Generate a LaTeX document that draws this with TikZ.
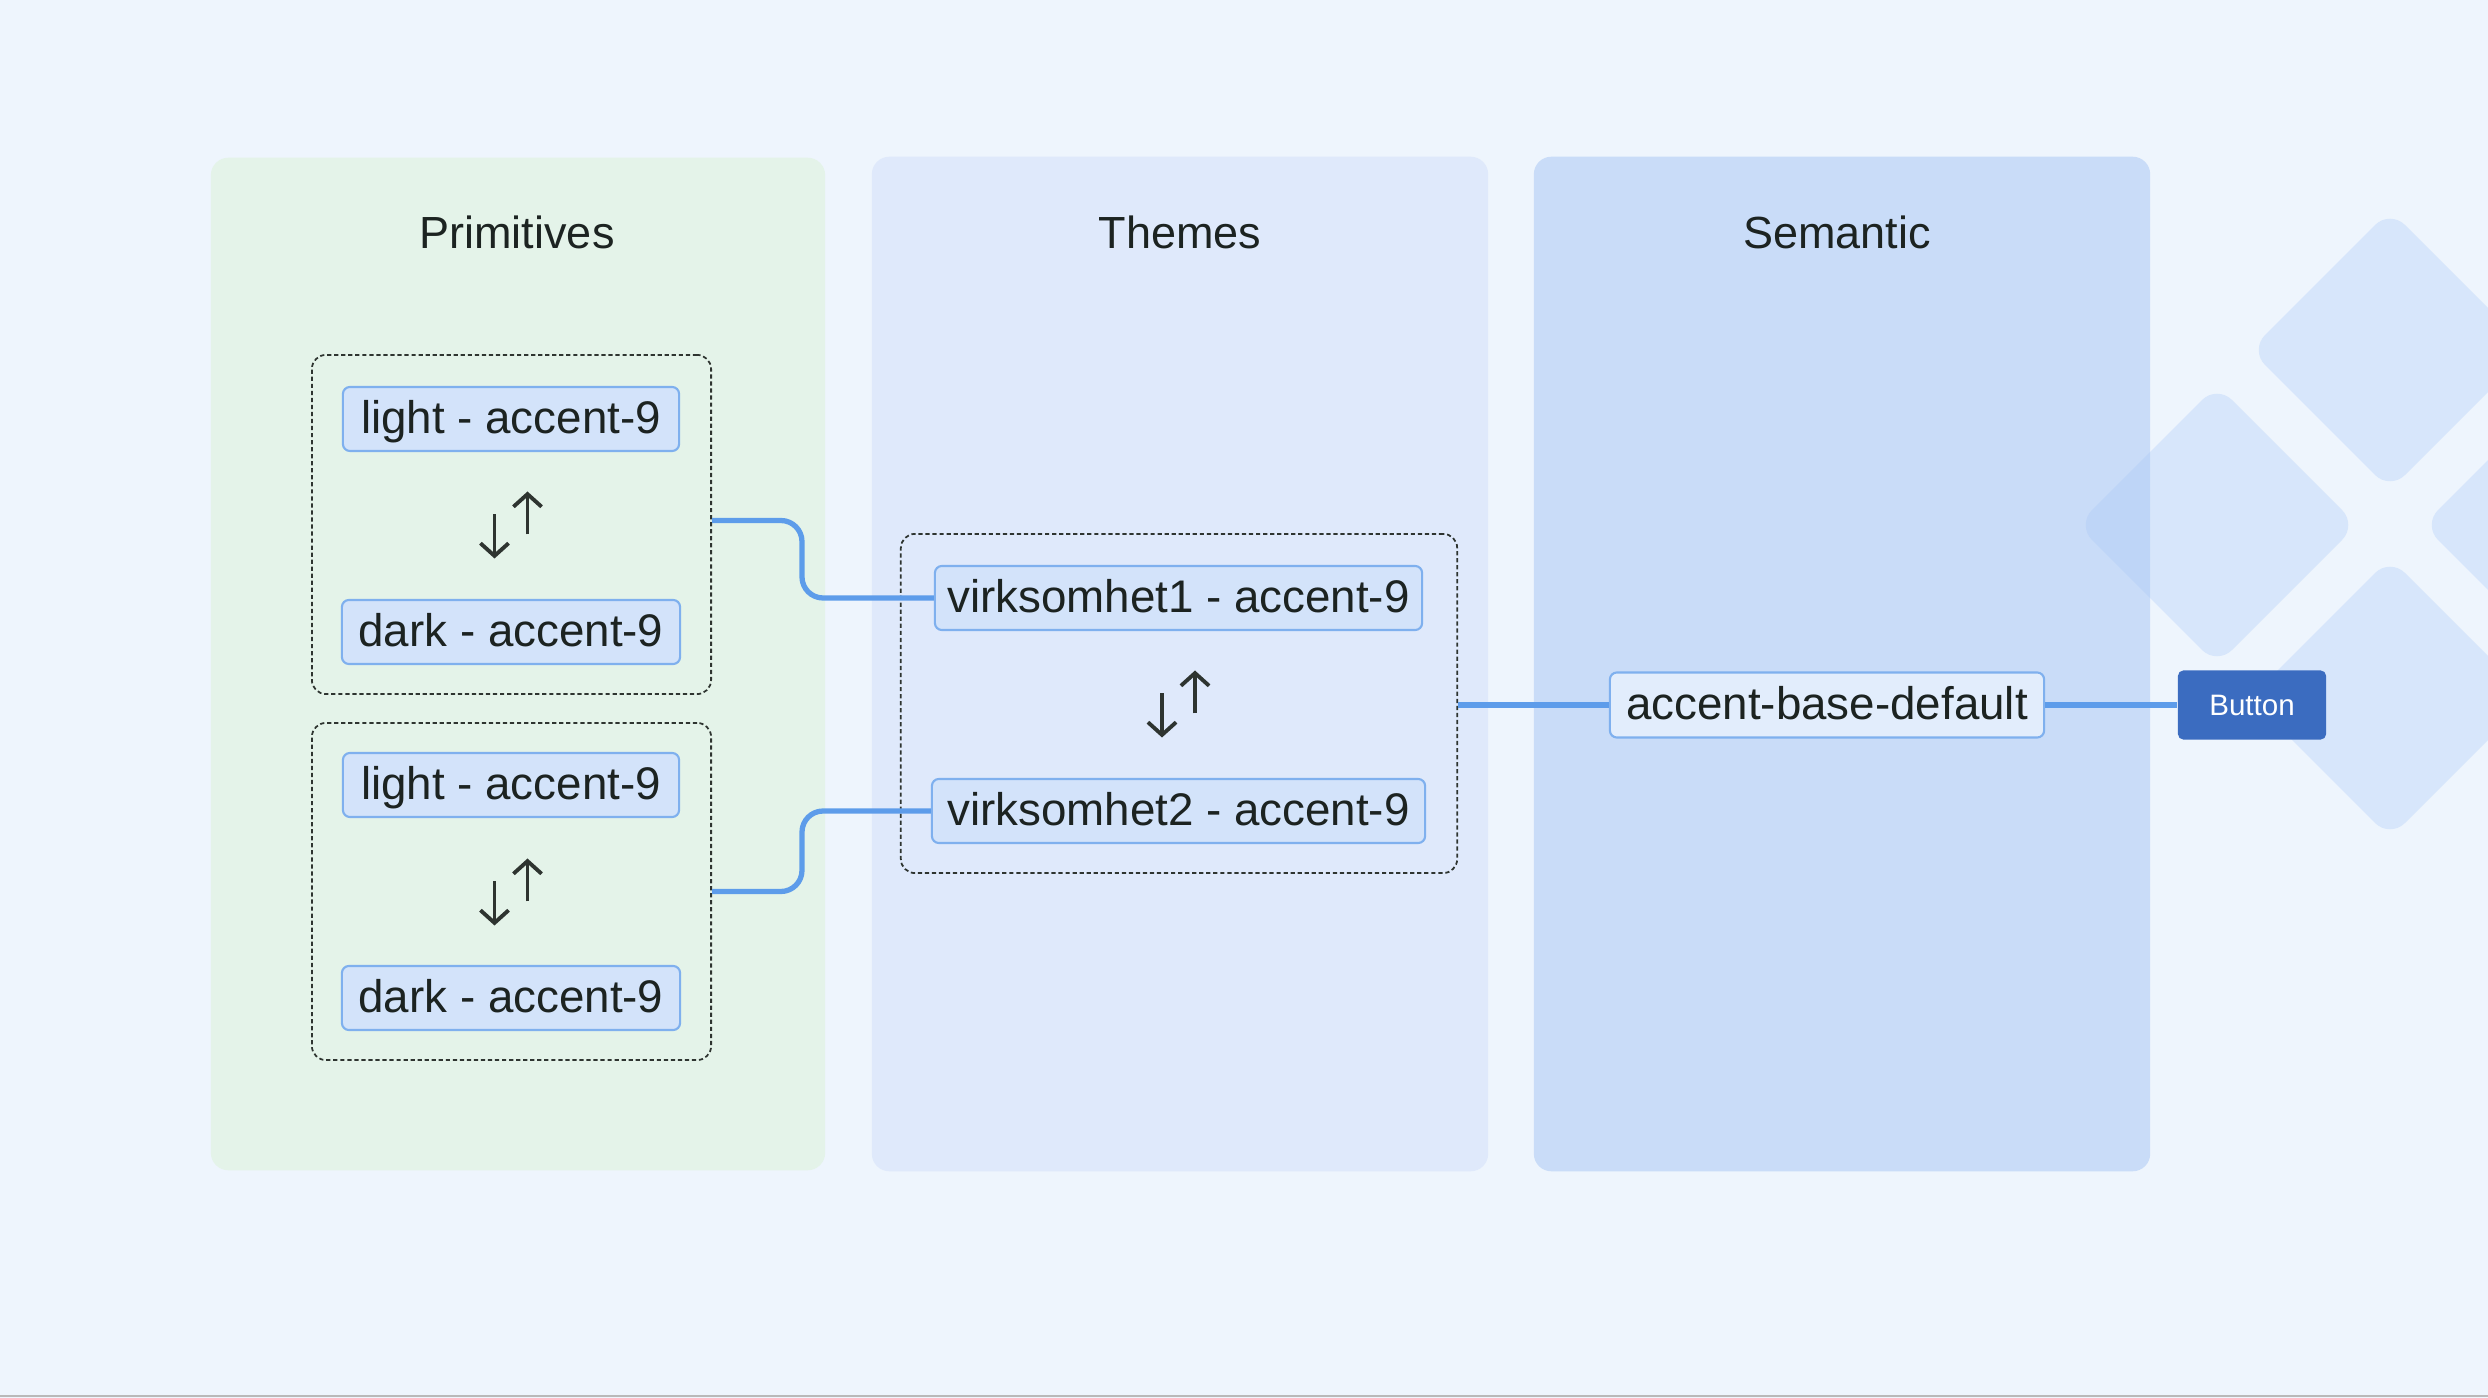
\documentclass[tikz,border=0pt]{standalone}
\usepackage{fontspec}
\setmainfont{Liberation Sans}
\usetikzlibrary{arrows.meta}
\definecolor{bgc}{HTML}{EEF5FD}
\definecolor{primc}{HTML}{E4F3E9}
\definecolor{themc}{HTML}{DFE9FB}
\definecolor{semc}{HTML}{C9DCF8}
\definecolor{nodefill}{HTML}{D3E3FA}
\definecolor{nodeline}{HTML}{7FB0EE}
\definecolor{semfill}{HTML}{E2EDFC}
\definecolor{wire}{HTML}{5D9CEA}
\definecolor{txt}{HTML}{1C2321}
\definecolor{btnc}{HTML}{3B6CC0}
\definecolor{diamc}{HTML}{A5C6F7}
\definecolor{dotc}{HTML}{2E3430}
\tikzset{
  panel/.style={fill=#1, rounded corners=5pt, inner sep=0pt, draw=none},
  title/.style={text=txt, font=\fontsize{12.8pt}{15pt}\selectfont, inner sep=0pt},
  token/.style={draw=nodeline, line width=0.6pt, fill=nodefill, rounded corners=2pt,
    text=txt, font=\fontsize{13pt}{15pt}\selectfont, inner sep=0pt, minimum height=0.64cm,
    text height=9.5pt, text depth=1.5pt},
  dotbox/.style={draw=dotc, line width=0.5pt, dash pattern=on 1.2pt off 0.8pt,
    rounded corners=4pt, inner sep=0pt},
  wireline/.style={draw=wire, line width=1.5pt, rounded corners=6pt},
  swap/.style={draw=dotc, line width=1.1pt, -{Straight Barb[length=3.6pt,width=8pt,line width=1.1pt]}},
  diam/.style={fill=diamc, fill opacity=0.3, rounded corners=6pt},
  btn/.style={fill=btnc, rounded corners=1.5pt, text=white, font=\fontsize{8.4pt}{10pt}\selectfont,
    inner sep=0pt, minimum width=1.48cm, minimum height=0.69cm, text height=6.1pt, text depth=0pt}
}
\begin{document}
\begin{tikzpicture}[x=0.01cm,y=-0.01cm]
\useasboundingbox (0,0) rectangle (2488,1398);
\fill[bgc] (0,0) rectangle (2488,1398);
\draw[gray!55, line width=0.5pt] (0,1396) -- (2488,1396);

% panels
\node[panel=primc, minimum width=6.14cm, minimum height=10.12cm] (pprim) at (518,664) {};
\node[panel=themc, minimum width=6.16cm, minimum height=10.14cm] (pthem) at (1180,664) {};
\node[panel=semc, minimum width=6.16cm, minimum height=10.14cm] (psem) at (1842,664) {};

% background diamonds
\fill[diam] (2217,385) -- (2357,525) -- (2217,665) -- (2077,525) -- cycle;
\fill[diam] (2390,210) -- (2530,350) -- (2390,490) -- (2250,350) -- cycle;
\fill[diam] (2390,558) -- (2530,698) -- (2390,838) -- (2250,698) -- cycle;
\fill[diam] (2563,385) -- (2703,525) -- (2563,665) -- (2423,525) -- cycle;

% titles
\node[title] (tprim) at (517,232) {Primitives};
\node[title] (tthem) at (1180,232) {Themes};
\node[title] (tsem) at (1837,232) {Semantic};

% primitives groups
\node[dotbox, minimum width=3.99cm, minimum height=3.39cm] (g1) at (511.5,524.5) {};
\node[dotbox, minimum width=3.99cm, minimum height=3.37cm] (g2) at (511.5,891.5) {};
\node[token, minimum width=3.36cm] (l1) at (511,419) {light - accent-9};
\node[token, minimum width=3.38cm] (d1) at (511,632) {dark - accent-9};
\node[token, minimum width=3.36cm] (l2) at (511,785) {light - accent-9};
\node[token, minimum width=3.38cm] (d2) at (511,998) {dark - accent-9};

% themes group
\node[dotbox, minimum width=5.56cm, minimum height=3.39cm] (g3) at (1179,703.5) {};
\node[token, minimum width=4.87cm] (v1) at (1178.5,598) {virksomhet1 - accent-9};
\node[token, minimum width=4.93cm] (v2) at (1178.5,811) {virksomhet2 - accent-9};

% semantic + button
\node[token, fill=semfill, minimum width=4.34cm, minimum height=0.65cm] (s) at (1827,705) {accent-base-default};
\node[btn] (b) at (2252,705) {Button};

% swap arrows
\coordinate (c1) at (511.5,524.5);
\coordinate (c2) at (511.5,891.5);
\coordinate (c3) at (1179,703.5);
\foreach \c in {c1,c2,c3}{
  \draw[swap] (\c) ++(-17,-10) -- ++(0,44);
  \draw[swap] (\c) ++(16,10) -- ++(0,-43);
}

% connectors
\draw[wireline] (g1.east) ++(0,-4) -- ++(90,0) |- (v1.west);
\draw[wireline] (g2.east) -- ++(90,0) |- (v2.west);
\draw[wireline] (g3.east |- s.west) -- (s.west);
\draw[wireline] (s.east) -- (b.west);
\end{tikzpicture}
\end{document}
